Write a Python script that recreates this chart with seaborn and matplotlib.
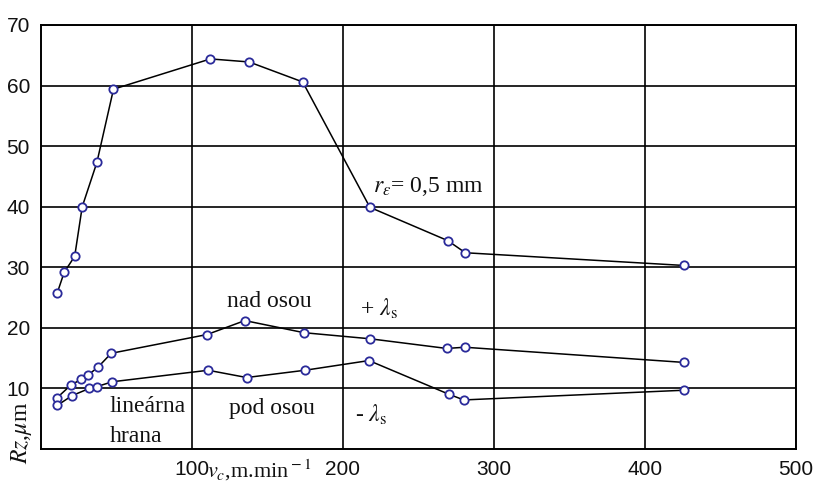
import matplotlib
matplotlib.use("Agg")
import matplotlib.pyplot as plt
import seaborn as sns
import pandas as pd

# Cutting speed v_c [m/min] and roughness Rz [um]
vc_radius = [10.8, 15.4, 22.3, 27.3, 37.0, 48.0, 112.2, 137.8, 173.3, 217.8, 269.4, 281.0, 425.9]
rz_radius = [25.8, 29.2, 31.8, 40.0, 47.3, 59.4, 64.4, 63.9, 60.6, 39.9, 34.4, 32.4, 30.3]

vc_plus = [10.8, 20.0, 26.7, 31.1, 37.7, 46.5, 110.0, 135.0, 174.2, 217.8, 268.7, 280.6, 425.5]
rz_plus = [8.5, 10.6, 11.5, 12.2, 13.5, 15.8, 18.9, 21.2, 19.2, 18.2, 16.6, 16.8, 14.3]

vc_minus = [10.8, 20.5, 32.0, 37.0, 47.2, 110.7, 136.2, 174.8, 217.2, 270.5, 280.0, 425.5]
rz_minus = [7.2, 8.8, 10.0, 10.3, 11.1, 13.0, 11.8, 13.0, 14.6, 9.0, 8.1, 9.7]

x_ticks = [100, 200, 300, 400, 500]
y_ticks = [10, 20, 30, 40, 50, 60, 70]

sns.set_theme(style="white")
plt.rcParams["mathtext.fontset"] = "stix"

fig = plt.figure(figsize=(8.15, 4.87), dpi=100)
ax = fig.add_axes([41 / 815, 1 - 449 / 487, 755 / 815, 424 / 487])

series = [(vc_radius, rz_radius), (vc_plus, rz_plus), (vc_minus, rz_minus)]
for vx, vy in series:
    df = pd.DataFrame({"vc": vx, "rz": vy})
    sns.lineplot(data=df, x="vc", y="rz", ax=ax, sort=False, color="black",
                 linewidth=1.1, marker="o", markersize=6,
                 markerfacecolor="white", markeredgecolor="#2a2a9a",
                 markeredgewidth=1.3, zorder=3)

ax.set_xlim(0, 500)
ax.set_ylim(0, 70)
ax.set_xticks(x_ticks)
ax.set_yticks(y_ticks)
ax.grid(True, color="black", linewidth=1.2)
for s in ax.spines.values():
    s.set_color("black")
    s.set_linewidth(1.4)
ax.tick_params(length=0, labelsize=15, labelcolor="#111111", pad=8)
for lab in ax.get_xticklabels() + ax.get_yticklabels():
    lab.set_family("Liberation Sans")
ax.set_xlabel("")
ax.set_ylabel("")

serif = {"family": "Liberation Serif", "size": 17, "color": "#111111"}
ax.text(151, 23.5, "nad osou", ha="center", va="baseline", **serif)
ax.text(153, 5.7, "pod osou", ha="center", va="baseline", **serif)
ax.text(45.6, 6.1, "lineárna", ha="left", va="baseline", **serif)
ax.text(45.6, 1.2, "hrana", ha="left", va="baseline", **serif)
ax.text(211, 22.0, r"+ $\lambda_{\rm s}$", ha="left", va="baseline", **serif)
ax.text(207.7, 4.55, r"- $\lambda_{\rm s}$", ha="left", va="baseline", **serif)
ax.text(219.6, 42.5, r"$r_\varepsilon$= 0,5 mm", ha="left", va="baseline", **serif)

fig.text(22 / 815, 1 - 433 / 487, r"$Rz$,$\mu$m", rotation=90, ha="center",
         va="center", family="Liberation Serif", size=17, color="#111111")
fig.text(207 / 815, 1 - 478 / 487, r"$v_c$,m.min$^{\rm -1}$", ha="left",
         va="baseline", family="Liberation Serif", size=16, color="#111111")

fig.savefig("out.png", dpi=100)
